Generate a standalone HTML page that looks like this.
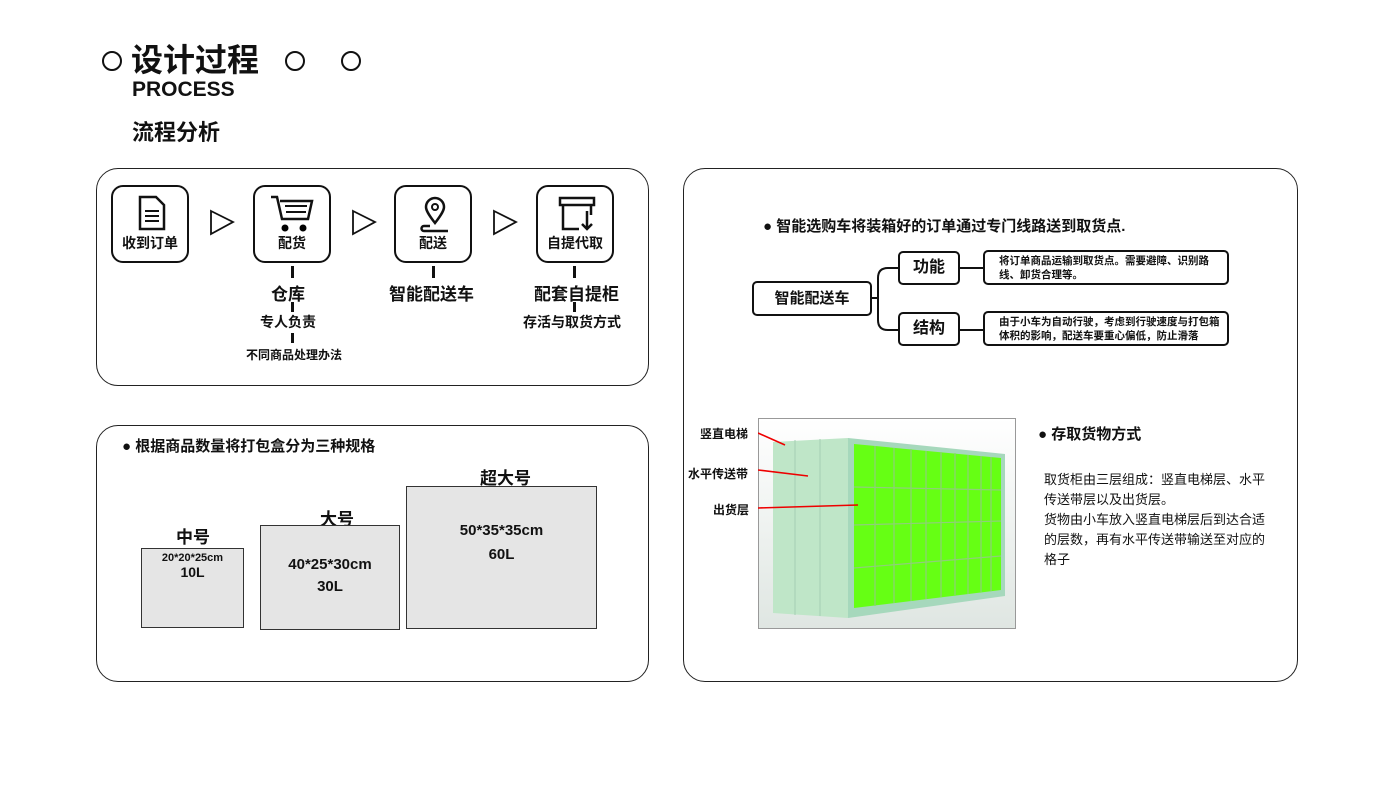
<!DOCTYPE html>
<html><head><meta charset="utf-8"><style>
*{margin:0;padding:0;box-sizing:border-box}
body{width:1400px;height:788px;background:#fff;position:relative;overflow:hidden;font-family:"Liberation Sans","Noto Sans CJK SC",sans-serif;color:#111}
.a{position:absolute;white-space:nowrap}
.b{font-weight:bold}
.panel{position:absolute;border:1.5px solid #222;border-radius:22px}
.circ{position:absolute;width:20px;height:20px;border:2.5px solid #111;border-radius:50%}
.ib{position:absolute;width:78px;height:78px;border:2px solid #111;border-radius:12px}
.ib span{position:absolute;left:0;right:0;bottom:8px;text-align:center;font-size:14px;font-weight:bold}
.vl{position:absolute;width:3px;background:#111}
.box{position:absolute;border:2px solid #111;border-radius:5px;background:#fff}
.gbox{position:absolute;border:1.5px solid #333;background:#e5e5e5;text-align:center;font-weight:bold}
</style></head><body>
<div class="circ" style="left:102px;top:51px"></div>
<div class="a b" style="left:131px;top:38px;font-size:32px;line-height:44px">设计过程</div>
<div class="circ" style="left:285px;top:51px"></div>
<div class="circ" style="left:341px;top:51px"></div>
<div class="a b" style="left:132px;top:78px;font-size:21px;line-height:24px">PROCESS</div>
<div class="a b" style="left:132px;top:119px;font-size:22px;line-height:28px">流程分析</div>

<div class="panel" style="left:96px;top:168px;width:553px;height:218px"></div>
<div class="ib" style="left:111px;top:185px"><svg class="a" style="left:24px;top:8px" width="30" height="36" viewBox="0 0 30 36"><path d="M3 2h16l8 8v24H3z" fill="none" stroke="#111" stroke-width="2.5"/><path d="M8 16h14M8 21h14M8 26h14" stroke="#111" stroke-width="2"/></svg><span>收到订单</span></div>
<div class="ib" style="left:253px;top:185px"><svg class="a" style="left:14px;top:6px" width="50" height="42" viewBox="0 0 50 42"><path d="M2 4h6l5 22h26l4-18H11" fill="none" stroke="#111" stroke-width="2.5"/><path d="M16 13h22M17 19h20" stroke="#111" stroke-width="2"/><circle cx="16" cy="35" r="3.5"/><circle cx="34" cy="35" r="3.5"/></svg><span>配货</span></div>
<div class="ib" style="left:394px;top:185px"><svg class="a" style="left:22px;top:8px" width="34" height="40" viewBox="0 0 34 40"><path d="M17 28C10 19 8 15 8 12a9 9 0 0118 0c0 3-2 7-9 16z" fill="none" stroke="#111" stroke-width="2.5"/><circle cx="17" cy="12" r="3" fill="none" stroke="#111" stroke-width="2"/><path d="M12 31H6a2.5 2.5 0 000 5h24" fill="none" stroke="#111" stroke-width="2.5"/></svg><span>配送</span></div>
<div class="ib" style="left:536px;top:185px"><svg class="a" style="left:20px;top:8px" width="38" height="38" viewBox="0 0 38 38"><path d="M2 3h34v7H2zM5 10v24h16M33 10v10" fill="none" stroke="#111" stroke-width="2.5"/><path d="M29 16v18M24 29l5 5 5-5" fill="none" stroke="#111" stroke-width="2.5"/></svg><span>自提代取</span></div>
<svg class="a" style="left:208px;top:208px" width="320" height="30"><g fill="#fff" stroke="#111" stroke-width="1.8"><path d="M3 3l22 11L3 26z"/><path d="M145 3l22 11-22 12z"/><path d="M286 3l22 11-22 12z"/></g></svg>
<div class="vl" style="left:291px;top:266px;height:12px"></div>
<div class="a b" style="left:271px;top:280px;font-size:17px">仓库</div>
<div class="vl" style="left:291px;top:302px;height:10px"></div>
<div class="a b" style="left:260px;top:312px;font-size:14px">专人负责</div>
<div class="vl" style="left:291px;top:333px;height:10px"></div>
<div class="a b" style="left:246px;top:346px;font-size:12px">不同商品处理办法</div>
<div class="vl" style="left:432px;top:266px;height:12px"></div>
<div class="a b" style="left:389px;top:280px;font-size:17px">智能配送车</div>
<div class="vl" style="left:573px;top:266px;height:12px"></div>
<div class="a b" style="left:534px;top:280px;font-size:17px">配套自提柜</div>
<div class="vl" style="left:573px;top:302px;height:10px"></div>
<div class="a b" style="left:523px;top:312px;font-size:14px">存活与取货方式</div>

<div class="panel" style="left:96px;top:425px;width:553px;height:257px"></div>
<div class="a b" style="left:122px;top:435px;font-size:15px">● 根据商品数量将打包盒分为三种规格</div>
<div class="a b" style="left:176px;top:523px;font-size:17px">中号</div>
<div class="gbox" style="left:141px;top:548px;width:103px;height:80px;font-size:11px;padding-top:3px">20*20*25cm<br><span style="font-size:14px">10L</span></div>
<div class="a b" style="left:320px;top:505px;font-size:17px">大号</div>
<div class="gbox" style="left:260px;top:525px;width:140px;height:105px;font-size:15px;padding-top:28px;line-height:22px">40*25*30cm<br>30L</div>
<div class="a b" style="left:480px;top:464px;font-size:17px">超大号</div>
<div class="gbox" style="left:406px;top:486px;width:191px;height:143px;font-size:15px;padding-top:32px;line-height:24px">50*35*35cm<br>60L</div>

<div class="panel" style="left:683px;top:168px;width:615px;height:514px"></div>
<div class="a b" style="left:763px;top:215px;font-size:15px">● 智能选购车将装箱好的订单通过专门线路送到取货点.</div>
<div class="box" style="left:752px;top:281px;width:120px;height:35px;font-size:15px;font-weight:bold;text-align:center;line-height:31px">智能配送车</div>
<svg class="a" style="left:870px;top:260px" width="120" height="80"><g fill="none" stroke="#111" stroke-width="2"><path d="M2 38h6M8 38V18q0-10 10-10h12M8 38v22q0 10 10 10h12M88 8h26M88 70h26"/></g></svg>
<div class="box" style="left:898px;top:251px;width:62px;height:34px;font-size:16px;font-weight:bold;text-align:center;line-height:30px">功能</div>
<div class="box" style="left:898px;top:312px;width:62px;height:34px;font-size:16px;font-weight:bold;text-align:center;line-height:30px">结构</div>
<div class="box" style="left:983px;top:250px;width:246px;height:35px;font-size:10.5px;font-weight:bold;padding:2px 0 0 14px;line-height:14px;white-space:normal">将订单商品运输到取货点。需要避障、识别路线、卸货合理等。</div>
<div class="box" style="left:983px;top:311px;width:246px;height:35px;font-size:10.5px;font-weight:bold;padding:2px 0 0 14px;line-height:14px;white-space:normal">由于小车为自动行驶，考虑到行驶速度与打包箱体积的影响，配送车要重心偏低，防止滑落</div>

<svg class="a" style="left:758px;top:418px" width="258" height="211" viewBox="0 0 258 211">
<defs><linearGradient id="fl" x1="0" y1="0" x2="0" y2="1"><stop offset="0" stop-color="#fff"/><stop offset="1" stop-color="#dfe6e2"/></linearGradient></defs>
<rect x="0.5" y="0.5" width="257" height="210" fill="url(#fl)" stroke="#999"/>
<polygon points="15,24 90,20 90,200 15,195" fill="#bfe6c8"/>
<line x1="37" y1="22" x2="37" y2="197" stroke="#a6cfb3"/><line x1="62" y1="21" x2="62" y2="198" stroke="#a6cfb3"/>
<polygon points="90,20 247,36 247,178 90,200" fill="#a6d8bc"/>
<polygon points="96,26 243,40 243,172 96,190" fill="#66ff14"/>
<g stroke="#8fcf7a" stroke-width="1.2">
<line x1="96" y1="69" x2="243" y2="72"/><line x1="96" y1="107" x2="243" y2="103"/><line x1="96" y1="150" x2="243" y2="138"/>
<line x1="117" y1="28" x2="117" y2="188"/><line x1="136" y1="30" x2="136" y2="185"/><line x1="153" y1="31" x2="153" y2="183"/><line x1="168" y1="33" x2="168" y2="181"/><line x1="183" y1="34" x2="183" y2="179"/><line x1="197" y1="35" x2="197" y2="177"/><line x1="210" y1="37" x2="210" y2="176"/><line x1="223" y1="38" x2="223" y2="174"/><line x1="233" y1="39" x2="233" y2="173"/>
</g>
<g stroke="#e00" stroke-width="1.6"><line x1="0" y1="15" x2="27" y2="27"/><line x1="0" y1="52" x2="50" y2="58"/><line x1="0" y1="90" x2="100" y2="87"/></g>
</svg>
<div class="a b" style="left:700px;top:425px;font-size:12px">竖直电梯</div>
<div class="a b" style="left:688px;top:465px;font-size:12px">水平传送带</div>
<div class="a b" style="left:713px;top:501px;font-size:12px">出货层</div>
<div class="a b" style="left:1038px;top:423px;font-size:15px">● 存取货物方式</div>
<div class="a" style="left:1044px;top:470px;width:230px;font-size:13px;line-height:20px;white-space:normal">取货柜由三层组成：竖直电梯层、水平传送带层以及出货层。<br>货物由小车放入竖直电梯层后到达合适的层数，再有水平传送带输送至对应的格子</div>
</body></html>
